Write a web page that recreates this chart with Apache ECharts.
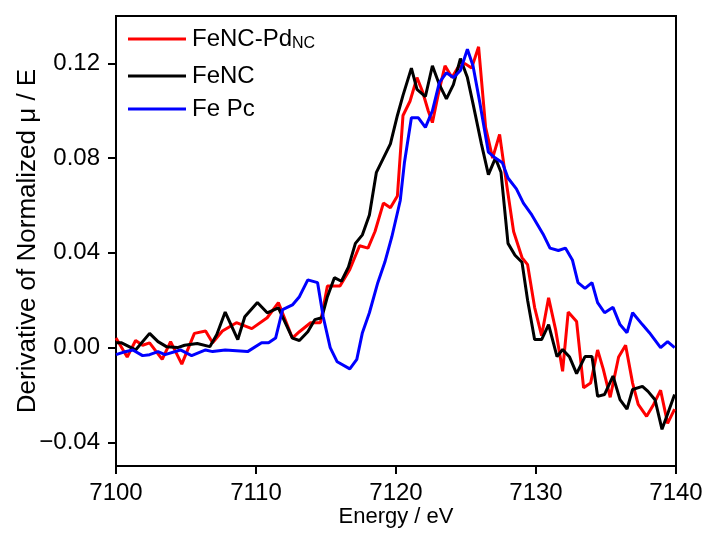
<!DOCTYPE html>
<html>
<head>
<meta charset="utf-8">
<script src="https://cdn.jsdelivr.net/npm/echarts@6/dist/echarts.min.js"></script>
<style>html,body{margin:0;padding:0;background:#fff}#c{width:709px;height:536px}</style>
</head>
<body>
<div id="c"></div>
<script>
// FeNC-PdNC (red)
var redE = [7100,7100.8,7101.4,7101.9,7102.4,7103.3,7103.9,7104.7,7105.6,7106.4,7106.9,7107.6,7108.6,7109.7,7110.8,7111.6,7112.6,7113.1,7113.9,7114.6,7115.1,7116.0,7116.7,7117.4,7118.0,7118.5,7119.1,7119.6,7120.1,7120.5,7121.0,7121.5,7121.9,7122.3,7122.6,7123.0,7123.5,7124.0,7124.4,7124.9,7125.4,7125.9,7126.4,7126.9,7127.4,7127.9,7128.4,7129.0,7129.4,7129.9,7130.4,7130.9,7131.4,7131.9,7132.3,7132.9,7133.4,7133.9,7134.4,7134.8,7135.3,7135.9,7136.4,7136.9,7137.3,7137.9,7138.4,7138.9,7139.4,7139.9];
var redV = [0.004,-0.004,0.003,0.001,0.002,-0.005,0.0025,-0.007,0.006,0.007,0.002,0.007,0.0105,0.008,0.0126,0.019,0.004,0.0067,0.0105,0.0105,0.026,0.026,0.033,0.043,0.042,0.049,0.061,0.059,0.064,0.098,0.104,0.114,0.108,0.100,0.095,0.1065,0.119,0.114,0.118,0.120,0.118,0.127,0.093,0.080,0.090,0.069,0.049,0.038,0.035,0.017,0.005,0.021,0.0076,-0.010,0.015,0.011,-0.017,-0.015,-0.001,-0.009,-0.021,-0.004,0.001,-0.015,-0.024,-0.029,-0.024,-0.018,-0.032,-0.026];
// FeNC (black)
var blackE = [7100,7100.4,7101.4,7102.4,7103.0,7103.6,7104.4,7104.9,7105.8,7106.7,7107.2,7107.8,7108.7,7109.2,7110.1,7110.8,7111.6,7112.6,7113.1,7113.7,7114.2,7114.7,7115.1,7115.6,7116.1,7116.6,7117.1,7117.6,7118.1,7118.6,7119.1,7119.6,7120.1,7120.5,7121.1,7121.5,7122.1,7122.6,7123.1,7123.6,7124.1,7124.6,7125.1,7125.5,7126.1,7126.6,7127.1,7127.5,7128.0,7128.5,7129.0,7129.4,7129.9,7130.4,7130.9,7131.5,7131.9,7132.4,7132.9,7133.5,7134.0,7134.4,7134.9,7135.5,7136.0,7136.5,7136.9,7137.6,7138.0,7138.5,7139.0,7139.4,7139.9];
var blackV = [0.002,0.002,-0.001,0.006,0.0025,0.0004,0.0,0.001,0.0017,0.0004,0.0055,0.015,0.0034,0.013,0.019,0.0147,0.0168,0.004,0.003,0.0067,0.0118,0.0126,0.0215,0.0295,0.028,0.034,0.044,0.0476,0.056,0.074,0.080,0.086,0.098,0.1065,0.118,0.109,0.106,0.119,0.111,0.105,0.111,0.122,0.114,0.103,0.086,0.073,0.080,0.074,0.044,0.039,0.036,0.020,0.0034,0.0034,0.0097,-0.0038,-0.0008,-0.004,-0.011,-0.0038,-0.0038,-0.0206,-0.0198,-0.012,-0.022,-0.026,-0.0177,-0.0164,-0.0185,-0.022,-0.0345,-0.028,-0.0198];
// Fe Pc (blue)
var blueE = [7100,7100.5,7101.2,7101.9,7102.4,7103.0,7103.5,7104.6,7105.4,7106.4,7106.9,7107.8,7109.4,7110.4,7110.9,7111.4,7111.9,7112.6,7113.1,7113.7,7114.4,7114.8,7115.3,7115.8,7116.7,7117.2,7117.6,7118.1,7118.7,7119.2,7119.7,7120.3,7120.6,7121.1,7121.6,7122.1,7122.6,7123.1,7123.6,7124.1,7124.6,7125.1,7125.5,7126.0,7126.6,7127.1,7127.6,7128.0,7128.6,7129.1,7129.7,7130.5,7131.0,7131.6,7132.1,7132.6,7133.0,7133.5,7134.0,7134.4,7134.9,7135.5,7136.0,7136.5,7136.9,7137.6,7138.1,7138.9,7139.4,7139.9];
var blueV = [-0.003,-0.002,-0.001,-0.0034,-0.003,-0.0017,-0.003,-0.001,-0.0034,-0.001,-0.0017,-0.001,-0.0017,0.002,0.002,0.004,0.016,0.018,0.0215,0.0286,0.0274,0.013,0.0,-0.006,-0.009,-0.005,0.0063,0.0147,0.0274,0.036,0.0467,0.062,0.078,0.097,0.097,0.093,0.100,0.112,0.116,0.114,0.117,0.126,0.119,0.103,0.0825,0.080,0.078,0.0716,0.067,0.061,0.056,0.048,0.042,0.041,0.042,0.037,0.0274,0.025,0.0274,0.019,0.0147,0.017,0.0097,0.0063,0.0147,0.0097,0.0063,0.0,0.0025,0.0];

var seriesNames = ['FeNC-Pd', 'FeNC', 'Fe Pc'];
var xTicks = [7100, 7110, 7120, 7130, 7140];
var yTicks = [-0.04, 0.00, 0.04, 0.08, 0.12];

function zip(a, b) { return a.map(function (x, i) { return [x, b[i]]; }); }

var FONT = '"Liberation Sans", Arial, sans-serif';
var chart = echarts.init(document.getElementById('c'), null, {renderer: 'canvas'});
function mk(name, e, v, color) {
  return {
    name: name, type: 'line', data: zip(e, v), symbol: 'none',
    lineStyle: {color: color, width: 3}, itemStyle: {color: color},
    animation: false
  };
}
function lg(name, top) {
  return {
    orient: 'vertical', left: 128, top: top, itemWidth: 58, itemHeight: 3, padding: 0,
    icon: 'rect', data: [name], selectedMode: false,
    formatter: function (n) { return n === 'FeNC-Pd' ? '{m|FeNC-Pd}{s|NC}' : '{m|' + n + '}'; },
    textStyle: {
      fontFamily: FONT, fontSize: 24, color: '#000', padding: [0, 0, 0, 1],
      rich: {
        m: {fontFamily: FONT, fontSize: 24, color: '#000', lineHeight: 26},
        s: {fontFamily: FONT, fontSize: 16, color: '#000', verticalAlign: 'bottom', padding: [9, 0, 0, 0], lineHeight: 26}
      }
    }
  };
}
chart.setOption({
  animation: false,
  backgroundColor: '#fff',
  grid: {left: 116, right: 33, top: 16, bottom: 70, show: true, borderColor: '#000', borderWidth: 2, backgroundColor: 'transparent', containLabel: false, outerBoundsMode: 'none'},
  legend: [lg('FeNC-Pd', 27), lg('FeNC', 64), lg('Fe Pc', 97)],
  xAxis: {
    type: 'value', min: 7100, max: 7140, interval: 10,
    name: 'Energy / eV', nameLocation: 'middle', nameGap: 40, nameMoveOverlap: false,
    nameTextStyle: {fontFamily: FONT, fontSize: 22, color: '#000'},
    axisLine: {onZero: false, lineStyle: {color: '#000', width: 2}},
    axisTick: {show: true, inside: false, length: 8, lineStyle: {color: '#000', width: 2}, customValues: xTicks},
    axisLabel: {fontFamily: FONT, fontSize: 24, color: '#000', margin: 15, customValues: xTicks,
      formatter: function (v) { return String(v); }},
    splitLine: {show: false}
  },
  yAxis: {
    type: 'value', min: -0.05, max: 0.14,
    name: 'Derivative of Normalized \u03bc / E', nameLocation: 'middle', nameGap: 75, nameMoveOverlap: false,
    nameTextStyle: {fontFamily: FONT, fontSize: 26, color: '#000'},
    axisLine: {onZero: false, lineStyle: {color: '#000', width: 2}},
    axisTick: {show: true, inside: false, length: 8, lineStyle: {color: '#000', width: 2}, customValues: yTicks},
    axisLabel: {fontFamily: FONT, fontSize: 24, color: '#000', margin: 16, customValues: yTicks,
      formatter: function (v) { return v.toFixed(2).replace('-', '\u2212'); }},
    splitLine: {show: false}
  },
  series: [
    mk('FeNC-Pd', redE, redV, '#ff0000'),
    mk('FeNC', blackE, blackV, '#000000'),
    mk('Fe Pc', blueE, blueV, '#0000ff')
  ]
});
</script>
</body>
</html>
